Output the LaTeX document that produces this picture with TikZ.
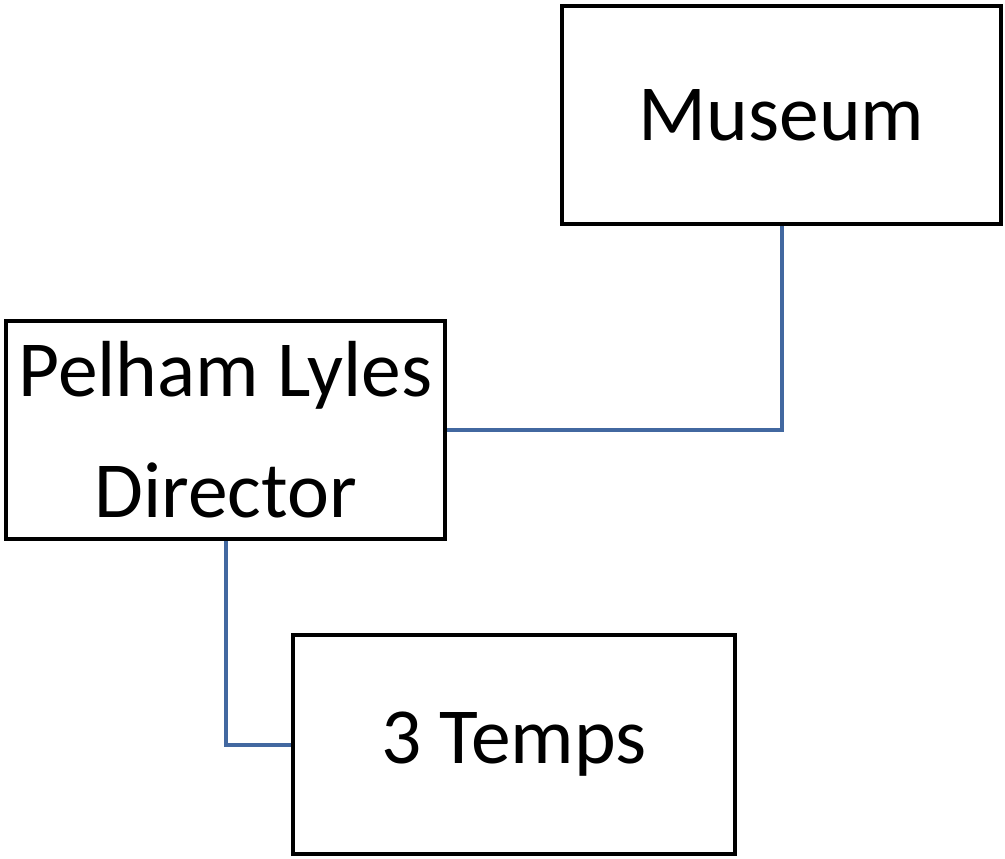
\documentclass[tikz,border=0pt]{standalone}
\usepackage{fontspec}
\setmainfont{Carlito}
\definecolor{linkblue}{RGB}{66,104,160}
\begin{document}
\begin{tikzpicture}[x=1pt,y=-1pt,
  orgbox/.style={draw=black,line width=4.5pt,fill=white,inner sep=0pt,align=center,
    font=\fontsize{79.5}{121}\selectfont},
  link/.style={draw=linkblue,line width=4pt}]
\useasboundingbox (0,0) rectangle (1005,859);
\node[orgbox,minimum width=439pt,minimum height=218pt] (museum) at (781.5,115) {Museum};
\node[orgbox,minimum width=439pt,minimum height=218pt] (pelham) at (225.5,430) {Pelham Lyles\\Director};
\node[orgbox,minimum width=442pt,minimum height=219pt] (temps) at (514,744.5) {3 Temps};
\draw[link] (museum.south) |- (pelham.east);
\draw[link] (pelham.south) |- (temps.west);
\end{tikzpicture}
\end{document}
